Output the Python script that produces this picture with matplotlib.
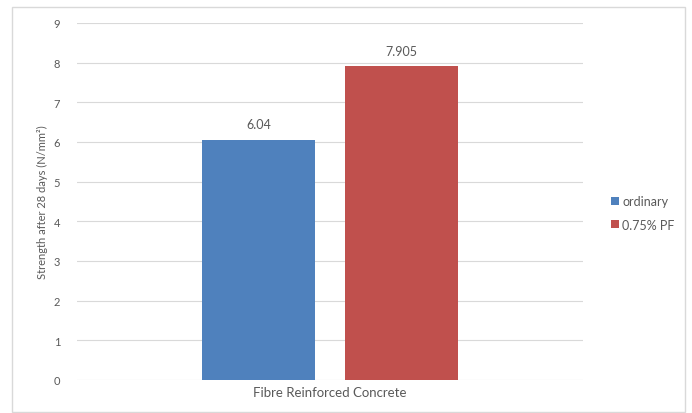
import matplotlib
matplotlib.use('Agg')
import matplotlib.pyplot as plt
from matplotlib.patches import Rectangle, Patch

# data
category = "Fibre Reinforced Concrete"
series_names = ["ordinary", "0.75% PF"]
series_values = [6.04, 7.905]
value_labels = ["6.04", "7.905"]
colors = ["#4F81BD", "#C0504D"]
y_ticks = [0, 1, 2, 3, 4, 5, 6, 7, 8, 9]

plt.rcParams['font.family'] = ['Lato', 'DejaVu Sans']
text_color = '#595959'

fig = plt.figure(figsize=(6.92, 4.14), dpi=100)
fig.patch.set_facecolor('white')
# light frame around the chart area
fig.patches.append(Rectangle((12 / 692, 0.002), 673 / 692, 1 - 8 / 414 - 0.002,
                             transform=fig.transFigure, fill=False,
                             edgecolor='#D9D9D9', linewidth=1))

ax = fig.add_axes([77 / 692, 1 - 381 / 414, 506 / 692, 357 / 414])

width = 0.223
offset = 0.1415
positions = [-offset, offset]
handles = []
for pos, val, lab, name, col in zip(positions, series_values, value_labels, series_names, colors):
    ax.bar(pos, val, width=width, color=col, zorder=3)
    ax.text(pos, val + 0.25, lab, ha='center', va='bottom', fontsize=9, color=text_color)
    handles.append(Patch(facecolor=col, label=name))

ax.set_xlim(-0.5, 0.5)
ax.set_ylim(0, 9)
ax.set_yticks(y_ticks)
ax.set_yticklabels([str(t) for t in y_ticks])
ax.set_xticks([0])
ax.set_xticklabels([category])
ax.tick_params(axis='both', length=0, labelsize=8, colors=text_color)
ax.tick_params(axis='x', labelsize=9.5, pad=4)
ax.tick_params(axis='y', pad=12)
ax.grid(axis='y', color='#D9D9D9', linewidth=0.8, zorder=0)
for s in ax.spines.values():
    s.set_visible(False)
ax.set_ylabel("Strength after 28 days (N/mm²)", fontsize=8, color=text_color, labelpad=4)

fig.legend(handles=handles, loc='center left', bbox_to_anchor=(600 / 692, 1 - 214 / 414),
           frameon=False, fontsize=9, handlelength=0.6, handleheight=0.6,
           handletextpad=0.3, labelspacing=0.9, labelcolor=text_color)

fig.savefig('out.png', dpi=100)
